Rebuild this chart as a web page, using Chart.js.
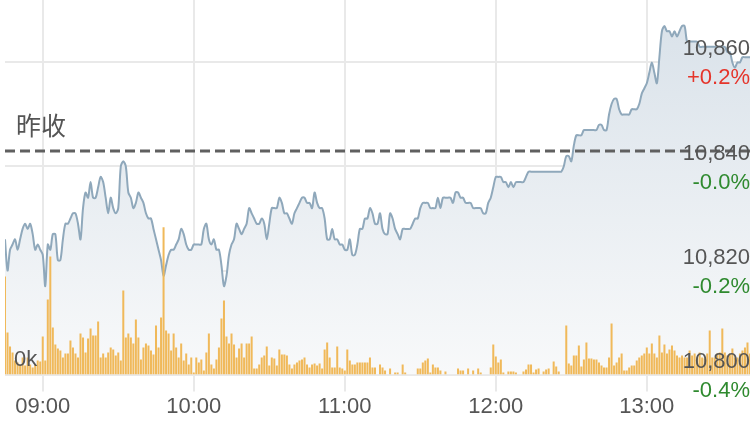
<!DOCTYPE html>
<html>
<head>
<meta charset="utf-8">
<script src="https://cdn.jsdelivr.net/npm/chart.js@4.4.0/dist/chart.umd.min.js"></script>
<style>
  html, body { margin: 0; padding: 0; background: #fff; }
  #wrap { width: 750px; height: 422px; }
</style>
</head>
<body>
<div id="wrap"><canvas id="myChart"></canvas></div>
<script>
  // one point per minute from 08:45
  const startTime = '08:45';
  const prices = [
    10826, 10820, 10824, 10825, 10826, 10824, 10826, 10828, 10829, 10828,
    10829, 10827, 10824, 10825, 10824, 10823, 10817, 10825, 10824, 10827,
    10827, 10822, 10822, 10826, 10829, 10829, 10830, 10831, 10831, 10829,
    10826, 10832, 10835, 10834, 10837, 10834, 10834, 10836, 10838, 10837,
    10834, 10831, 10834, 10832, 10831, 10832, 10840, 10841, 10840, 10835,
    10834, 10832, 10833, 10835, 10834, 10833, 10831, 10830, 10830, 10828,
    10826, 10824, 10822, 10819, 10821, 10823, 10824, 10824, 10825, 10826,
    10828, 10827, 10825, 10824, 10824, 10825, 10825, 10825, 10825, 10828,
    10829, 10826, 10825, 10826, 10824, 10824, 10821, 10817, 10819, 10823,
    10825, 10826, 10829, 10828, 10827, 10828, 10829, 10832, 10831, 10830,
    10829, 10829, 10830, 10829, 10826, 10829, 10832, 10832, 10832, 10834,
    10833, 10831, 10831, 10830, 10829, 10831, 10832, 10833, 10834, 10834,
    10833, 10833, 10832, 10835, 10833, 10832, 10832, 10830, 10826, 10826,
    10828, 10826, 10826, 10825, 10825, 10824, 10824, 10826, 10823, 10823,
    10825, 10828, 10828, 10830, 10830, 10832, 10831, 10829, 10829, 10831,
    10828, 10827, 10827, 10831, 10830, 10828, 10827, 10826, 10828, 10828,
    10828, 10828, 10829, 10830, 10830, 10832, 10833, 10833, 10833, 10832,
    10832, 10832, 10834, 10832, 10834, 10834, 10834, 10834, 10833, 10835,
    10835, 10834, 10834, 10833, 10833, 10833, 10832, 10832, 10832, 10832,
    10831, 10831, 10833, 10834, 10836, 10838, 10838, 10838, 10837, 10837,
    10836, 10837, 10836, 10837, 10837, 10837, 10837, 10838, 10839, 10839,
    10839, 10839, 10839, 10839, 10839, 10839, 10839, 10839, 10839, 10839,
    10839, 10839, 10840, 10842, 10842, 10841, 10844, 10846, 10846, 10846,
    10847, 10847, 10847, 10847, 10847, 10847, 10848, 10848, 10847, 10847,
    10850, 10852, 10853, 10853, 10851, 10850, 10850, 10850, 10850, 10851,
    10851, 10851, 10852, 10854, 10855, 10856, 10858, 10860, 10858, 10856,
    10861, 10866, 10867, 10866, 10866, 10865, 10866, 10865, 10866, 10867,
    10867, 10864, 10864, 10864, 10864, 10864, 10863, 10863, 10863, 10863,
    10863, 10863, 10863, 10863, 10863, 10863, 10863, 10862, 10862, 10860,
    10859, 10860, 10860, 10861, 10861, 10861, 10861
  ];
  const volumes = [
    98, 42, 28, 22, 14, 12, 10, 17, 9, 17, 10, 7, 10, 14, 13, 38, 14, 75, 118,
    47, 30, 26, 24, 17, 21, 21, 34, 27, 21, 17, 41, 37, 22, 36, 46, 39, 39, 53,
    17, 21, 17, 22, 27, 25, 19, 22, 14, 84,
    37, 41, 37, 31, 55, 37, 15, 27, 31, 29, 24, 20, 49, 27, 57, 147,
    44, 41, 24, 41, 27, 17, 31, 14, 21, 10, 17, 2, 17, 12, 15, 4, 22, 41, 10, 6,
    15, 27, 56, 74,
    38, 31, 41, 30, 17, 26, 31, 17, 31, 31,
    38, 6, 6, 10, 17, 19, 28, 9, 17, 16, 9, 25, 20, 20, 19, 10, 6, 10, 12, 14,
    15, 17, 10, 7, 10, 11, 9, 11, 6, 25, 32, 17, 7, 7, 28, 7, 6, 4, 25, 14,
    10, 10, 12, 12, 12, 12, 12, 17, 7, 7, 0, 10, 7, 4, 0, 6, 0, 2, 2, 0,
    10, 2, 0, 0, 0, 0, 6, 6, 12, 14, 16, 2, 10, 7, 7, 4, 0, 3, 0, 0,
    0, 0, 6, 4, 4, 0, 6, 0, 4, 0, 6, 2, 0, 0, 0, 7, 30, 18, 12, 15,
    2, 0, 3, 3, 3, 2, 0, 0, 3, 5, 10, 10, 2, 5, 6, 0, 3, 5, 6, 0,
    13, 8, 3, 0, 0, 49, 11, 9, 19, 19, 29, 8, 15, 32, 16, 16, 15, 15, 12, 9,
    7, 7, 17, 51, 9, 12, 17, 21, 4, 4, 7, 9, 9, 14, 17, 19, 21, 27, 21, 31,
    21, 17, 39, 22, 30, 21, 25, 29, 24, 19, 17, 19, 17, 17, 24, 19, 21, 17, 22, 17,
    16, 21, 44, 17, 17, 21, 22, 46, 22, 19, 21, 26, 17, 17, 21, 24, 27, 32, 21
  ];
  const prevClose = 10843;
  const priceTicks = [10800, 10820, 10840, 10860];
  const timeTicks = ['09:00', '10:00', '11:00', '12:00', '13:00'];
  const volumeTicks = [0];

  function toMinutes(s) {
    const p = s.split(':');
    return Number(p[0]) * 60 + Number(p[1]);
  }
  function toHHMM(m) {
    const h = Math.floor(m / 60), mm = m % 60;
    return String(h).padStart(2, '0') + ':' + String(mm).padStart(2, '0');
  }

  const t0 = toMinutes(startTime);
  const minutes = prices.map((p, i) => t0 + i);
  const xMin = t0;
  const xMax = minutes[minutes.length - 1];
  const yMin = 10800, yMax = 10872;

  const fontFamily = '"Liberation Sans", Arial, sans-serif';
  const textGrey = '#555555';
  const gridGrey = '#e9e9e9';

  // keep overlay axes from taking room
  function noSpace(scale) {
    scale.width = 0;
    scale.paddingTop = 0;
    scale.paddingBottom = 0;
  }

  const closeLabel = {
    id: 'closeLabel',
    afterDatasetsDraw(chart) {
      const ctx = chart.ctx;
      const y = chart.scales.y.getPixelForValue(prevClose);
      ctx.save();
      ctx.font = '25px "Noto Sans CJK TC", sans-serif';
      ctx.fillStyle = textGrey;
      ctx.textAlign = 'left';
      ctx.textBaseline = 'alphabetic';
      ctx.fillText('昨收', chart.chartArea.left + 11, y - 16);
      ctx.restore();
    }
  };

  new Chart('myChart', {
    data: {
      datasets: [
        {
          type: 'line',
          data: [{ x: xMin, y: prevClose }, { x: xMax, y: prevClose }],
          yAxisID: 'y',
          borderColor: '#606060',
          borderWidth: 3,
          borderDash: [10, 5],
          pointRadius: 0,
          fill: false,
          order: 1
        },
        {
          type: 'bar',
          data: minutes.map((m, i) => ({ x: m, y: volumes[i] })),
          yAxisID: 'yv',
          backgroundColor: '#f0b95a',
          barPercentage: 0.8,
          categoryPercentage: 1,
          order: 2
        },
        {
          type: 'line',
          data: minutes.map((m, i) => ({ x: m, y: prices[i] })),
          yAxisID: 'y',
          borderColor: '#8fa8bb',
          borderWidth: 2,
          pointRadius: 0,
          tension: 0.3,
          fill: 'start',
          backgroundColor: function (context) {
            const area = context.chart.chartArea;
            if (!area) return '#e9eef2';
            const g = context.chart.ctx.createLinearGradient(0, area.top, 0, area.bottom);
            g.addColorStop(0, '#d8e1e9');
            g.addColorStop(1, '#f8f9fa');
            return g;
          },
          order: 3
        }
      ]
    },
    options: {
      responsive: true,
      maintainAspectRatio: false,
      animation: false,
      layout: { padding: { left: 5, right: 0, top: 0, bottom: 0 } },
      plugins: {
        legend: { display: false },
        tooltip: { enabled: false }
      },
      scales: {
        x: {
          type: 'linear',
          min: xMin,
          max: xMax,
          offset: false,
          afterBuildTicks: function (scale) {
            scale.ticks = timeTicks.map(t => ({ value: toMinutes(t) }));
          },
          ticks: {
            autoSkip: false,
            maxRotation: 0,
            padding: 2,
            color: textGrey,
            font: { family: fontFamily, size: 22 },
            callback: function (v) { return toHHMM(v); }
          },
          grid: {
            offset: false,
            color: gridGrey,
            lineWidth: 2,
            tickLength: 17
          },
          border: { display: false }
        },
        y: {
          position: 'right',
          min: yMin,
          max: yMax,
          afterBuildTicks: function (scale) {
            scale.ticks = priceTicks.map(v => ({ value: v }));
          },
          afterFit: noSpace,
          ticks: { display: false },
          grid: { color: gridGrey, lineWidth: 2, drawTicks: false },
          border: { display: false }
        },
        yPrice: {
          position: 'right',
          min: yMin,
          max: yMax,
          afterBuildTicks: function (scale) {
            scale.ticks = priceTicks.map(v => ({ value: v }));
          },
          afterFit: noSpace,
          ticks: {
            z: 1,
            mirror: true,
            padding: 0,
            labelOffset: -13,
            color: textGrey,
            font: { family: fontFamily, size: 22 },
            callback: function (v) { return v.toLocaleString('en-US'); }
          },
          grid: { display: false },
          border: { display: false }
        },
        yPct: {
          position: 'right',
          min: yMin,
          max: yMax,
          afterBuildTicks: function (scale) {
            scale.ticks = priceTicks.map(v => ({ value: v }));
          },
          afterFit: noSpace,
          ticks: {
            z: 1,
            mirror: true,
            padding: 0,
            labelOffset: 16,
            color: function (c) { return c.tick.value >= prevClose ? '#e5352b' : '#2f8a2f'; },
            font: { family: fontFamily, size: 22 },
            callback: function (v) {
              const pct = ((v - prevClose) / prevClose * 100).toFixed(1);
              return (v >= prevClose ? '+' : '') + pct + '%';
            }
          },
          grid: { display: false },
          border: { display: false }
        },
        yv: {
          position: 'left',
          min: 0,
          max: 374,
          afterBuildTicks: function (scale) {
            scale.ticks = volumeTicks.map(v => ({ value: v }));
          },
          afterFit: noSpace,
          ticks: {
            z: 1,
            mirror: true,
            padding: 9,
            labelOffset: -15,
            color: textGrey,
            font: { family: fontFamily, size: 22 },
            callback: function (v) { return (v / 1000) + 'k'; }
          },
          grid: { display: false },
          border: { display: false }
        }
      }
    },
    plugins: [closeLabel]
  });
</script>
</body>
</html>
